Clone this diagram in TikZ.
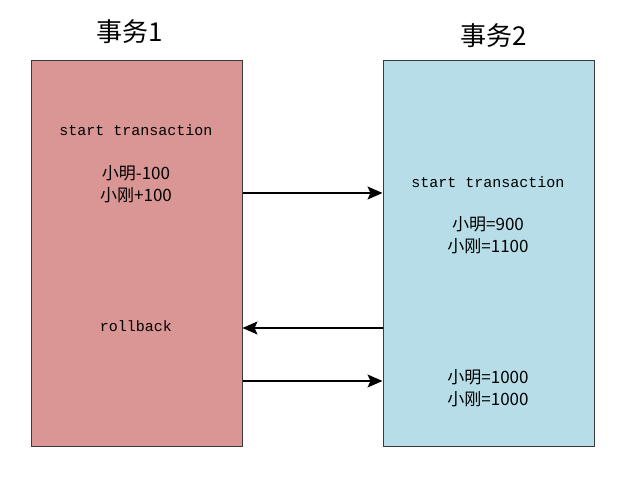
\documentclass[tikz,border=0pt]{standalone}
\usepackage{fontspec}
\setmonofont{Liberation Mono}
\newfontfamily\cjk{Noto Sans CJK SC}
\usetikzlibrary{arrows.meta,positioning}
\definecolor{txa}{HTML}{D99694}
\definecolor{txb}{HTML}{B7DEE8}
\definecolor{edge}{HTML}{3A3A3A}
\tikzset{
  txbox/.style={draw=edge,line width=1pt,minimum width=211pt,minimum height=385pt,inner sep=0pt},
  head/.style={font=\cjk\fontsize{26}{28}\selectfont,inner sep=0pt},
  code/.style={font=\ttfamily\fontsize{15}{16}\selectfont,inner sep=0pt},
  val/.style={font=\cjk\fontsize{17}{21.5}\selectfont,align=center,inner sep=0pt},
  msg/.style={-{Stealth[length=15pt,width=13pt,inset=3pt]},line width=1.2pt,black},
}

\begin{document}
\begin{tikzpicture}[x=1pt,y=-1pt]
  \useasboundingbox (0,0) rectangle (640,489);
  % the two transactions
  \node[txbox,fill=txa] (t1) at (136.5,253.5) {};
  \node[txbox,fill=txb] (t2) at (488.5,253.5) {};
  \node[head] (h1) at (130,32) {事务1};
  \node[head] (h2) at (494,36) {事务2};
  % left side
  \node[code] (s1) at (136,130) {start transaction};
  \node[val] (v1) at (136,184) {小明-100\\小刚+100};
  \node[code] (rb) at (136,326) {rollback};
  % right side
  \node[code] (s2) at (488,182) {start transaction};
  \node[val] (v2) at (488,235) {小明=900\\小刚=1100};
  \node[val] (v3) at (488,388) {小明=1000\\小刚=1000};
  % messages
  \coordinate (y1) at (0,193);
  \coordinate (y2) at (0,328);
  \coordinate (y3) at (0,381);
  \draw[msg] (t1.east |- y1) -- (t2.west |- y1);
  \draw[msg] (t2.west |- y2) -- (t1.east |- y2);
  \draw[msg] (t1.east |- y3) -- (t2.west |- y3);
\end{tikzpicture}
\end{document}
